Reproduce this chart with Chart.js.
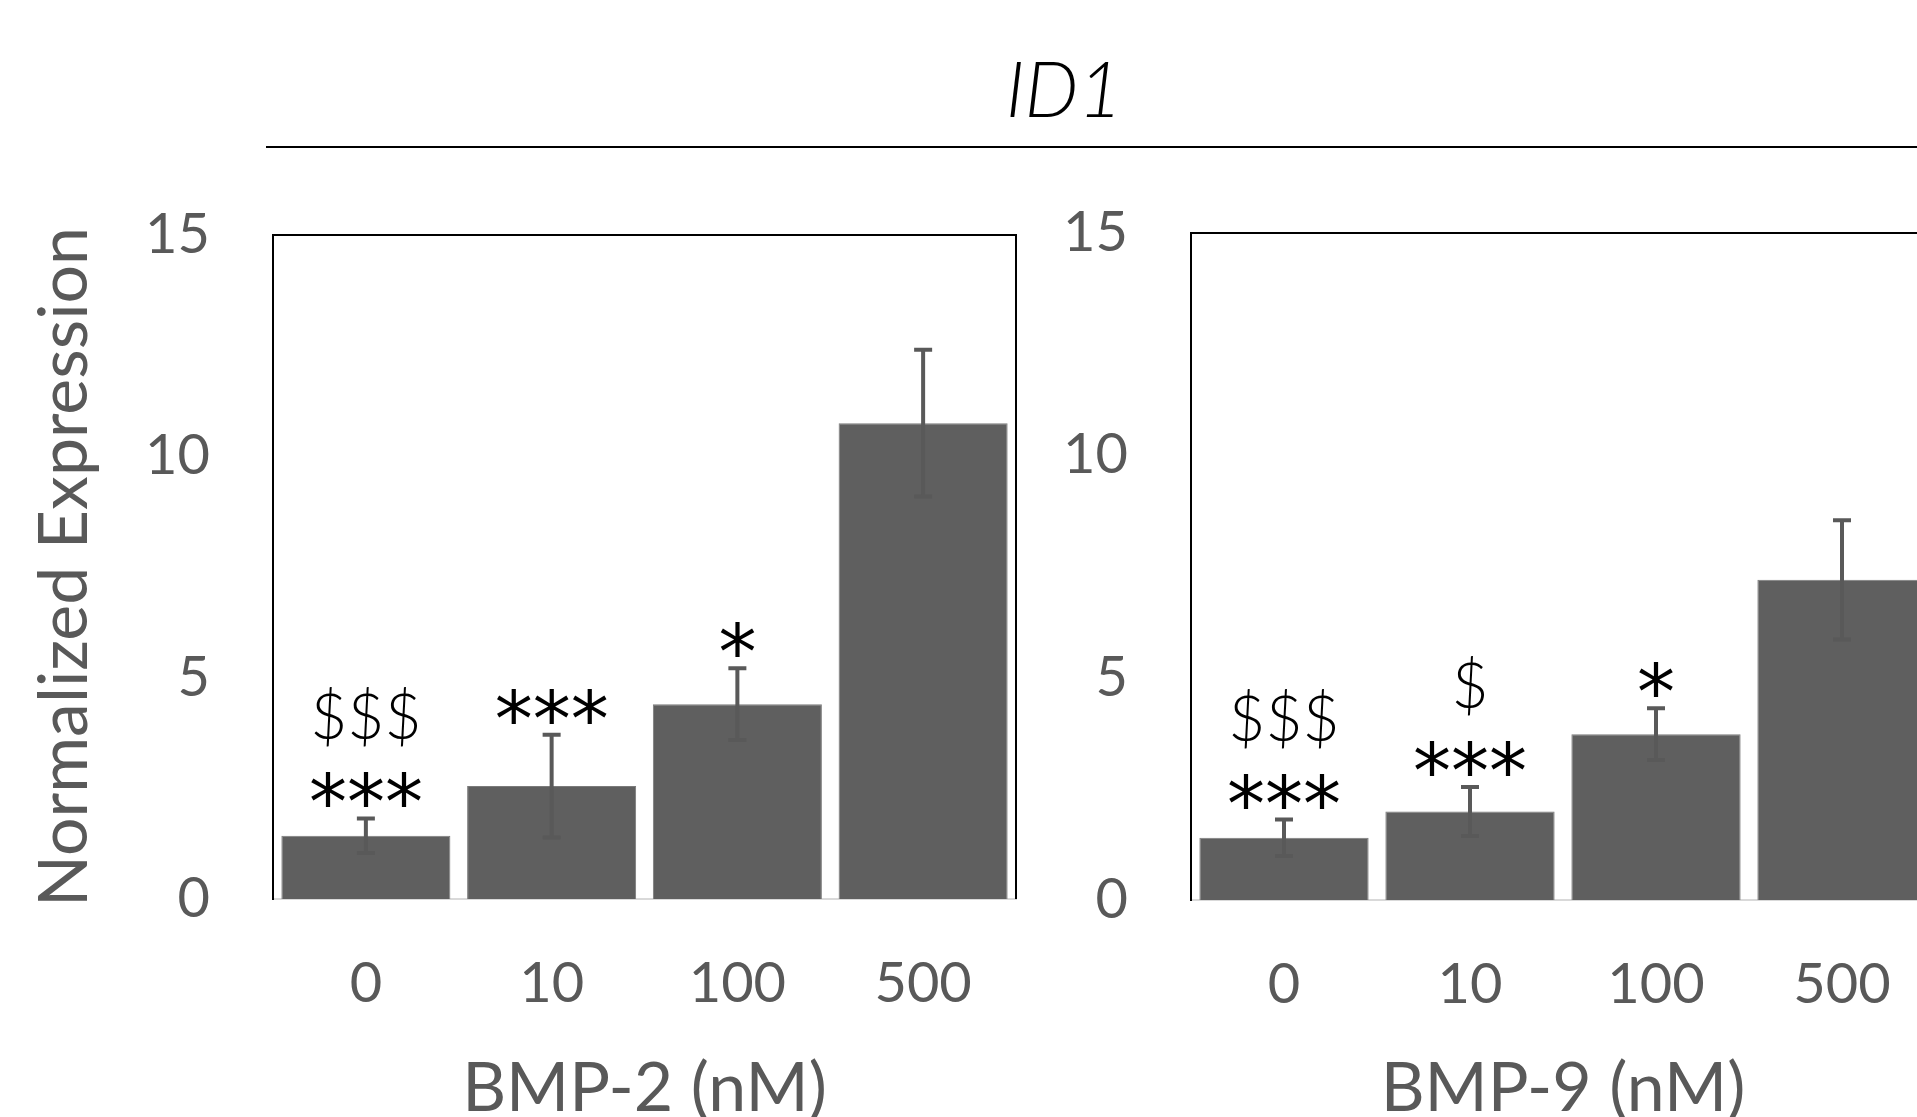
<!DOCTYPE html>
<html>
<head>
<meta charset="utf-8">
<script src="https://cdn.jsdelivr.net/npm/chart.js@4.4.1/dist/chart.umd.min.js"></script>
<style>
  html, body { margin: 0; padding: 0; background: #fff; }
  body { width: 1917px; height: 1117px; overflow: hidden; position: relative; }
  #geneTitle {
    position: absolute; left: 1064px; top: 88px; transform: translate(-50%, -50%);
    font-family: Lato, sans-serif; font-style: italic; font-weight: 300;
    font-size: 76px; line-height: 1; color: #000;
  }
  #titleRule { position: absolute; left: 266px; top: 146px; width: 1651px; height: 2px; background: #000; }
  #bmp2Chart { position: absolute; left: 0; top: 0; }
  #bmp9Chart { position: absolute; left: 1050px; top: 0; }
</style>
</head>
<body>
<div id="geneTitle">ID1</div>
<div id="titleRule"></div>
<canvas id="bmp2Chart" width="1040" height="1160"></canvas>
<canvas id="bmp9Chart" width="900" height="1160"></canvas>
<script>
  // data
  const doses = ['0', '10', '100', '500'];
  const bmp2Mean = [1.43, 2.55, 4.40, 10.75];
  const bmp2Err = [0.39, 1.16, 0.81, 1.66];
  const bmp9Mean = [1.40, 1.99, 3.73, 7.20];
  const bmp9Err = [0.41, 0.55, 0.58, 1.34];
  const bmp2Stars = ['***', '***', '*', ''];
  const bmp2Dollars = ['$$$', '', '', ''];
  const bmp9Stars = ['***', '***', '*', ''];
  const bmp9Dollars = ['$$$', '$', '', ''];
  const yMax = 15;
  const yStep = 5;

  const grey = '#595959';
  const barGrey = '#5f5f5f';

  function drawCentered(ctx, text, x, cy, font) {
    if (!text) return;
    ctx.font = font;
    ctx.textAlign = 'center';
    ctx.textBaseline = 'alphabetic';
    const m = ctx.measureText(text);
    const base = cy + (m.actualBoundingBoxAscent - m.actualBoundingBoxDescent) / 2;
    ctx.fillText(text, x, base);
  }

  // error bars, significance marks and the box frame
  const extrasPlugin = {
    id: 'extras',
    afterDatasetsDraw(chart) {
      const ctx = chart.ctx;
      const a = chart.chartArea;
      const ds = chart.data.datasets[0];
      const meta = chart.getDatasetMeta(0);
      const y = chart.scales.y;

      ctx.save();
      ctx.strokeStyle = '#000';
      ctx.lineWidth = 2;
      ctx.beginPath();
      ctx.moveTo(a.left, a.top);
      ctx.lineTo(a.right, a.top);
      ctx.lineTo(a.right, a.bottom);
      ctx.stroke();

      meta.data.forEach((bar, i) => {
        const hi = y.getPixelForValue(ds.data[i] + ds.errors[i]);
        const lo = y.getPixelForValue(ds.data[i] - ds.errors[i]);
        ctx.strokeStyle = grey;
        ctx.lineWidth = 4;
        ctx.beginPath();
        ctx.moveTo(bar.x, hi);
        ctx.lineTo(bar.x, lo);
        ctx.moveTo(bar.x - 9, hi);
        ctx.lineTo(bar.x + 9, hi);
        ctx.moveTo(bar.x - 9, lo);
        ctx.lineTo(bar.x + 9, lo);
        ctx.stroke();

        ctx.fillStyle = '#000';
        const starY = hi - 29;
        drawCentered(ctx, ds.stars[i], bar.x, starY, '76px "DejaVu Sans"');
        drawCentered(ctx, ds.dollars[i], bar.x, starY - 72, '300 64px Lato');
      });
      ctx.restore();
    }
  };

  function makeChart(el, title, means, errs, stars, dollars, box) {
    return new Chart(el, {
      type: 'bar',
      data: {
        labels: doses,
        datasets: [{
          data: means,
          errors: errs,
          stars: stars,
          dollars: dollars,
          backgroundColor: barGrey,
          borderColor: '#7a7a7a',
          borderWidth: 1,
          barPercentage: 0.91,
          categoryPercentage: 1.0
        }]
      },
      options: {
        responsive: false,
        animation: false,
        devicePixelRatio: 1,
        events: [],
        layout: { padding: { top: box.top, right: box.right, bottom: 0, left: 0 } },
        plugins: {
          legend: { display: false },
          tooltip: { enabled: false }
        },
        scales: {
          x: {
            grid: { display: false, drawTicks: false },
            border: { display: true, color: '#d9d9d9', width: 2 },
            ticks: { color: grey, font: { family: 'Lato', size: 56 }, padding: 51 },
            title: {
              display: true,
              text: title,
              color: grey,
              font: { family: 'Lato', size: 68 },
              padding: { top: 0, bottom: 30 }
            },
            afterFit: (s) => { s.height = box.xHeight; }
          },
          y: {
            min: 0,
            max: yMax,
            grid: { display: false, drawTicks: false },
            border: { display: true, color: '#000', width: 2 },
            ticks: { stepSize: yStep, color: grey, font: { family: 'Lato', size: 56 }, padding: 63 },
            title: {
              display: box.yTitle !== '',
              text: box.yTitle,
              color: grey,
              font: { family: 'Lato', size: 68 },
              padding: { top: 24, bottom: 0 }
            },
            afterFit: (s) => { s.width = box.yWidth; }
          }
        }
      },
      plugins: [extrasPlugin]
    });
  }

  //BMP-2 panel
  makeChart(document.getElementById('bmp2Chart'), 'BMP-2 (nM)', bmp2Mean, bmp2Err, bmp2Stars, bmp2Dollars,
    { top: 235, right: 24, xHeight: 261, yWidth: 273, yTitle: 'Normalized Expression' });

  //BMP-9 panel (runs off the right edge like the original)
  makeChart(document.getElementById('bmp9Chart'), 'BMP-9 (nM)', bmp9Mean, bmp9Err, bmp9Stars, bmp9Dollars,
    { top: 233, right: 15, xHeight: 260, yWidth: 141, yTitle: '' });
</script>
</body>
</html>
